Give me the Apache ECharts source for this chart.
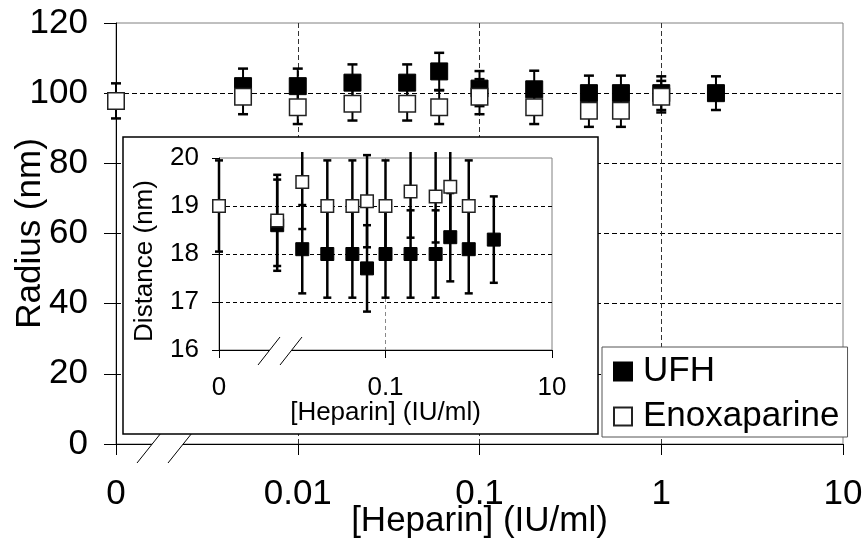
<!DOCTYPE html>
<html><head><meta charset="utf-8">
<script src="https://cdn.jsdelivr.net/npm/echarts@6/dist/echarts.min.js"></script>
<style>html,body{margin:0;padding:0;background:#fff}#c{width:866px;height:545px}</style>
</head><body><div id="c"></div>
<script>
// ---------- data ----------
const concUFH  = [0.005, 0.01, 0.02, 0.04, 0.06, 0.1, 0.2, 0.4, 0.6, 1, 2];
const concEnox = [0, 0.005, 0.01, 0.02, 0.04, 0.06, 0.1, 0.2, 0.4, 0.6, 1];
// main panel: radius (nm)
const radiusUFH     = [102, 102, 103, 103, 106.2, 101.3, 101.1, 100, 100, 100, 100];
const radiusUFHErr  = [5, 5, 5.2, 5.2, 5.3, 5, 5.3, 5, 5, 4.8, 4.8];
const radiusEnox    = [97.8, 99, 96, 97, 97, 96, 99, 96, 95, 95, 99];
const radiusEnoxErr = [5, 5, 4.8, 4.8, 4.8, 4.8, 5, 4.8, 4.6, 4.6, 4.5];
// inset: distance (nm)
const distUFH     = [18.6, 18.1, 18.0, 18.0, 17.7, 18.0, 18.0, 18.0, 18.35, 18.1, 18.3];
const distUFHErr  = [0.95, 0.92, 0.91, 0.91, 0.9, 0.91, 0.91, 0.91, 0.92, 0.92, 0.9];
const distEnox    = [19.0, 18.7, 19.5, 19.0, 19.0, 19.1, 19.0, 19.3, 19.2, 19.4, 19.0];
const distEnoxErr = [0.95, 0.95, 0.98, 0.95, 0.95, 0.96, 0.95, 0.96, 0.96, 0.97, 0.95];
// x tick labels, one per decade, starting at the broken "0" position
const xTickLabels = ['0', '0.01', '0.1', '1', '10'];
const legendNames = ['UFH', 'Enoxaparine'];

// ---------- helpers ----------
const FONT = "'Liberation Sans', Arial, sans-serif";
const ZERO_DECADE = -3; // "0" is drawn at the 0.001 decade, left of the axis break
const xPos = c => (c === 0 ? 0 : Math.log10(c) - ZERO_DECADE);
const INSET_YMIN = 16, INSET_YMAX = 20;

function errBar(capHalf, lw, capLw, clipPx) {
  return function (params, api) {
    const x = api.value(0), lo = api.value(1), hi = api.value(2);
    const pLo = api.coord([x, lo]), pHi = api.coord([x, hi]);
    let top = pHi[1], clipped = false;
    if (clipPx != null) {
      const lim = api.coord([x, INSET_YMAX])[1] - clipPx;
      if (top < lim) { top = lim; clipped = true; }
    }
    const st = {stroke: '#000', lineWidth: lw};
    const cst = {stroke: '#000', lineWidth: capLw};
    const ch = [
      {type: 'line', shape: {x1: pLo[0], y1: pLo[1], x2: pLo[0], y2: top}, style: st},
      {type: 'line', shape: {x1: pLo[0] - capHalf, y1: pLo[1], x2: pLo[0] + capHalf, y2: pLo[1]}, style: cst}
    ];
    if (!clipped) ch.push({type: 'line', shape: {x1: pLo[0] - capHalf, y1: top, x2: pLo[0] + capHalf, y2: top}, style: cst});
    return {type: 'group', children: ch};
  };
}
// axis-break mark (two slashes with a white gap), drawn relative to the axis origin
function breakRender(x1, x2, yLow, dx, dy) {
  return function (params, api) {
    const o = api.coord([api.value(0), api.value(1)]);
    const slope = dx / dy;
    const xAt = (xb, y) => o[0] + xb + (o[1] + yLow - y) * slope;
    const yT = o[1] - 4, yB = o[1] + 4;
    const ls = {stroke: '#000', lineWidth: 1};
    return {type: 'group', children: [
      {type: 'polygon', shape: {points: [[xAt(x1, yB), yB], [xAt(x1, yT), yT], [xAt(x2, yT), yT], [xAt(x2, yB), yB]]}, style: {fill: '#fff'}},
      {type: 'line', shape: {x1: o[0] + x1, y1: o[1] + yLow, x2: o[0] + x1 + dx, y2: o[1] + yLow - dy}, style: ls},
      {type: 'line', shape: {x1: o[0] + x2, y1: o[1] + yLow, x2: o[0] + x2 + dx, y2: o[1] + yLow - dy}, style: ls}
    ]};
  };
}
const errData = (conc, v, e) => conc.map((c, i) => [xPos(c), v[i] - e[i], v[i] + e[i]]);
const ptData = (conc, v) => conc.map((c, i) => [xPos(c), v[i]]);

const chart = echarts.init(document.getElementById('c'), null, {renderer: 'canvas'});
const axisText = (size) => ({fontSize: size, color: '#000', fontFamily: FONT});

const option = {
  animation: false,
  backgroundColor: '#fff',
  textStyle: {fontFamily: FONT, color: '#000'},
  grid: [
    {left: 116, right: 23, top: 23, bottom: 101, show: true, borderColor: '#808080', borderWidth: 1, z: 0},
    {left: 219, right: 314, top: 158, bottom: 195, show: true, borderColor: '#808080', borderWidth: 1, z: 6}
  ],
  xAxis: [
    {gridIndex: 0, type: 'value', min: 0, max: 4, interval: 1, z: 1,
     axisLine: {show: true, onZero: false, lineStyle: {color: '#000', width: 1}},
     axisTick: {show: true, length: 11, lineStyle: {color: '#000', width: 1}},
     axisLabel: Object.assign(axisText(35), {margin: 33, formatter: v => xTickLabels[Math.round(v)]}),
     splitLine: {show: true, showMinLine: false, showMaxLine: false, lineStyle: {color: '#333', type: [5, 3], width: 1}},
     name: '[Heparin] (IU/ml)', nameLocation: 'middle', nameGap: 60, nameMoveOverlap: false, nameTextStyle: axisText(35)},
    {gridIndex: 1, type: 'value', min: 0, max: 4, interval: 2, z: 7,
     axisLine: {show: true, onZero: false, lineStyle: {color: '#000', width: 1}},
     axisTick: {show: true, length: 8, lineStyle: {color: '#000', width: 1}},
     axisLabel: Object.assign(axisText(26), {margin: 25, formatter: v => xTickLabels[Math.round(v)]}),
     splitLine: {show: true, showMinLine: false, showMaxLine: false, lineStyle: {color: '#888', type: [4, 3], width: 1}},
     name: '[Heparin] (IU/ml)', nameLocation: 'middle', nameGap: 50, nameMoveOverlap: false, nameTextStyle: axisText(26)}
  ],
  yAxis: [
    {gridIndex: 0, type: 'value', min: 0, max: 120, interval: 20, z: 1,
     axisLine: {show: true, onZero: false, lineStyle: {color: '#000', width: 1}},
     axisTick: {show: true, length: 12, lineStyle: {color: '#000', width: 1}},
     axisLabel: Object.assign(axisText(35), {margin: 28}),
     splitLine: {show: true, showMinLine: false, showMaxLine: false, lineStyle: {color: '#000', type: [5, 3], width: 1}},
     name: 'Radius (nm)', nameLocation: 'middle', nameGap: 68, nameMoveOverlap: false, nameTextStyle: axisText(35)},
    {gridIndex: 1, type: 'value', min: INSET_YMIN, max: INSET_YMAX, interval: 1, z: 7,
     axisLine: {show: true, onZero: false, lineStyle: {color: '#000', width: 1}},
     axisTick: {show: true, length: 7, lineStyle: {color: '#000', width: 1}},
     axisLabel: Object.assign(axisText(26), {margin: 20}),
     splitLine: {show: true, showMinLine: false, showMaxLine: false, lineStyle: {color: '#000', type: [4, 3], width: 1}},
     name: 'Distance (nm)', nameLocation: 'middle', nameGap: 61, nameMoveOverlap: false,
     nameTextStyle: Object.assign(axisText(26), {padding: [0, 14, 0, 0]})}
  ],
  legend: {
    orient: 'vertical', left: 602, top: 347, z: 12,
    data: legendNames, selectedMode: false,
    backgroundColor: '#fff', borderColor: '#555', borderWidth: 1, borderRadius: 0,
    padding: [7, 8, 3, 11], itemGap: 10, itemWidth: 18, itemHeight: 18, icon: 'rect',
    textStyle: {fontSize: 35, color: '#000', fontFamily: FONT, padding: [0, 0, 0, 6]}
  },
  graphic: {elements: [
    {id: 'insetFrame', type: 'rect', z: 5, silent: true,
     shape: {x: 123, y: 137, width: 475, height: 297},
     style: {fill: '#fff', stroke: '#000', lineWidth: 1.5}}
  ]},
  series: [
    // main panel
    {type: 'custom', name: 'UFH err', xAxisIndex: 0, yAxisIndex: 0, z: 2, silent: true,
     renderItem: errBar(5, 2, 2.5), encode: {x: 0, y: [1, 2]},
     data: errData(concUFH, radiusUFH, radiusUFHErr)},
    {type: 'custom', name: 'Enox err', xAxisIndex: 0, yAxisIndex: 0, z: 2, silent: true,
     renderItem: errBar(5, 2, 2.5), encode: {x: 0, y: [1, 2]},
     data: errData(concEnox, radiusEnox, radiusEnoxErr)},
    {type: 'scatter', name: legendNames[0], xAxisIndex: 0, yAxisIndex: 0, z: 3, clip: false,
     symbol: 'rect', symbolSize: 17,
     itemStyle: {color: '#000', borderColor: '#000', borderWidth: 1, opacity: 1},
     data: ptData(concUFH, radiusUFH)},
    {type: 'scatter', name: legendNames[1], xAxisIndex: 0, yAxisIndex: 0, z: 4, clip: false,
     symbol: 'rect', symbolSize: 16.5,
     itemStyle: {color: '#fff', borderColor: '#222', borderWidth: 1.5, opacity: 1},
     data: ptData(concEnox, radiusEnox)},
    {type: 'custom', name: 'break main', xAxisIndex: 0, yAxisIndex: 0, z: 4.5, silent: true,
     renderItem: breakRender(21, 52, 19, 24, 30), data: [[0, 0]]},
    // inset panel
    {type: 'custom', name: 'UFH err inset', xAxisIndex: 1, yAxisIndex: 1, z: 8, silent: true,
     renderItem: errBar(4, 2.5, 2.5, 6), encode: {x: 0, y: [1, 2]},
     data: errData(concUFH, distUFH, distUFHErr)},
    {type: 'custom', name: 'Enox err inset', xAxisIndex: 1, yAxisIndex: 1, z: 8, silent: true,
     renderItem: errBar(4, 2.5, 2.5, 6), encode: {x: 0, y: [1, 2]},
     data: errData(concEnox, distEnox, distEnoxErr)},
    {type: 'scatter', name: legendNames[0], xAxisIndex: 1, yAxisIndex: 1, z: 9, clip: false,
     symbol: 'rect', symbolSize: 13,
     itemStyle: {color: '#000', borderColor: '#000', borderWidth: 1, opacity: 1},
     data: ptData(concUFH, distUFH)},
    {type: 'scatter', name: legendNames[1], xAxisIndex: 1, yAxisIndex: 1, z: 10, clip: false,
     symbol: 'rect', symbolSize: 12.5,
     itemStyle: {color: '#fff', borderColor: '#222', borderWidth: 1.5, opacity: 1},
     data: ptData(concEnox, distEnox)},
    {type: 'custom', name: 'break inset', xAxisIndex: 1, yAxisIndex: 1, z: 11, silent: true,
     renderItem: breakRender(39, 61, 15, 22, 28), data: [[0, INSET_YMIN]]}
  ]
};
chart.setOption(option);
</script>
</body></html>
